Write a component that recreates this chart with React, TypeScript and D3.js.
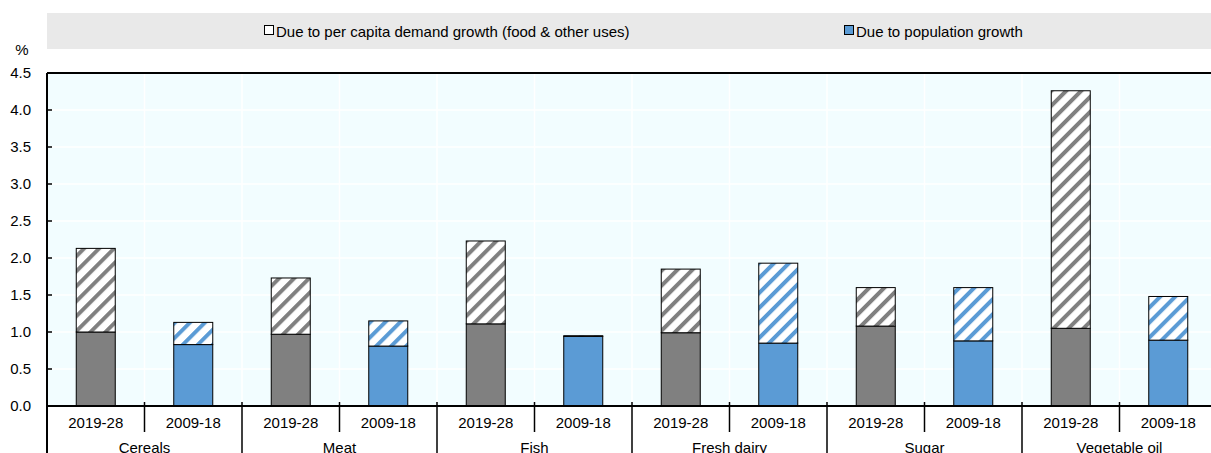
import React from 'react';
import * as d3 from 'd3';

const commodities = ['Cereals', 'Meat', 'Fish', 'Fresh dairy', 'Sugar', 'Vegetable oil'];
const periods = ['2019-28', '2009-18'];
// population growth contribution, per commodity [2019-28, 2009-18]
const popGrowth = [
  [1.0, 0.83],
  [0.97, 0.81],
  [1.11, 0.94],
  [0.99, 0.85],
  [1.08, 0.88],
  [1.05, 0.89],
];
// per capita demand growth contribution
const perCapita = [
  [1.13, 0.3],
  [0.76, 0.34],
  [1.12, 0.01],
  [0.86, 1.08],
  [0.52, 0.72],
  [3.21, 0.59],
];
const yTicks = [0, 0.5, 1, 1.5, 2, 2.5, 3, 3.5, 4, 4.5];

const W = 1211;
const H = 453;
const left = 47;
const right = 1217;
const top = 73;
const bottom = 406;

const GRAY = '#808080';
const BLUE = '#5b9bd5';
const FONT = '"Liberation Sans", Arial, sans-serif';

export default function App() {
  const bars = commodities.flatMap((c, i) =>
    periods.map((p, j) => ({ key: c + p, c, p, idx: i * 2 + j, j, pop: popGrowth[i][j], pc: perCapita[i][j] }))
  );
  const x = d3.scaleBand<number>().domain(d3.range(bars.length)).range([left, right]).paddingInner(0).paddingOuter(0);
  const y = d3.scaleLinear().domain([0, 4.5]).range([bottom, top]);
  const bw = x.bandwidth();
  const barW = bw * 0.4;

  return (
    <svg width={W} height={H} style={{ position: 'absolute', left: 0, top: 0 }} fontFamily={FONT}>
      <defs>
        <pattern id="hatchGray" patternUnits="userSpaceOnUse" width="10.6" height="10.6" patternTransform="rotate(45)">
          <rect width="10.6" height="10.6" fill="#fff" />
          <line x1="2" y1="0" x2="2" y2="10.6" stroke={GRAY} strokeWidth="4" />
        </pattern>
        <pattern id="hatchBlue" patternUnits="userSpaceOnUse" width="10.6" height="10.6" patternTransform="rotate(45)">
          <rect width="10.6" height="10.6" fill="#fff" />
          <line x1="2" y1="0" x2="2" y2="10.6" stroke={BLUE} strokeWidth="4" />
        </pattern>
      </defs>

      {/* legend */}
      <rect x={47} y={13} width={W - 47} height={36} fill="#e9e9e9" />
      <rect x={264.5} y={25.5} width={9} height={9} fill="#fff" stroke="#000" strokeWidth={1} />
      <text x={276} y={36.5} fontSize={15} fill="#000">Due to per capita demand growth (food &amp; other uses)</text>
      <rect x={844.5} y={25.5} width={9} height={9} fill={BLUE} stroke="#000" strokeWidth={1} />
      <text x={856} y={36.5} fontSize={15} fill="#000">Due to population growth</text>

      {/* plot area */}
      <rect x={left} y={top} width={right - left} height={bottom - top} fill="#f2fdff" />
      {yTicks.slice(1, -1).map(t => (
        <line key={t} x1={left} x2={right} y1={y(t)} y2={y(t)} stroke="#fff" strokeWidth={1.5} />
      ))}
      {d3.range(1, bars.length).map(i => (
        <line key={i} x1={x(i)!} x2={x(i)!} y1={top} y2={bottom} stroke="#fff" strokeWidth={1.5} />
      ))}

      {/* bars */}
      {bars.map(b => {
        const x0 = x(b.idx)! + (bw - barW) / 2;
        return (
          <g key={b.key}>
            <rect x={x0} y={y(b.pop)} width={barW} height={y(0) - y(b.pop)}
              fill={b.j === 0 ? GRAY : BLUE} stroke="#000" strokeWidth={1} />
            <rect x={x0} y={y(b.pop + b.pc)} width={barW} height={y(b.pop) - y(b.pop + b.pc)}
              fill={b.j === 0 ? 'url(#hatchGray)' : 'url(#hatchBlue)'} stroke="#000" strokeWidth={1} />
          </g>
        );
      })}

      {/* frame */}
      <line x1={left} x2={right} y1={top} y2={top} stroke="#000" strokeWidth={2} />
      <line x1={left} x2={left} y1={top} y2={H} stroke="#000" strokeWidth={2} />
      <line x1={left} x2={right} y1={bottom} y2={bottom} stroke="#000" strokeWidth={2} />

      {/* y axis */}
      {yTicks.map(t => (
        <g key={t}>
          <line x1={left} x2={left + 5} y1={y(t)} y2={y(t)} stroke="#000" strokeWidth={1.5} />
          <text x={31} y={y(t) + 5} fontSize={15} textAnchor="end" fill="#000">{t.toFixed(1)}</text>
        </g>
      ))}
      <text x={22} y={55} fontSize={15} textAnchor="middle" fill="#000">%</text>

      {/* x axis */}
      {bars.map(b => (
        <text key={b.key} x={x(b.idx)! + bw / 2} y={428} fontSize={15} textAnchor="middle" fill="#000">{b.p}</text>
      ))}
      {bars.filter(b => b.j === 1).map(b => (
        <line key={'s' + b.key} x1={x(b.idx)!} x2={x(b.idx)!} y1={bottom - 4} y2={432} stroke="#000" strokeWidth={1.5} />
      ))}
      {commodities.map((c, i) => (
        <g key={c}>
          {i > 0 && <line x1={x(i * 2)!} x2={x(i * 2)!} y1={bottom - 4} y2={H} stroke="#000" strokeWidth={1.5} />}
          <text x={x(i * 2)! + bw} y={453} fontSize={15} textAnchor="middle" fill="#000">{c}</text>
        </g>
      ))}
    </svg>
  );
}
